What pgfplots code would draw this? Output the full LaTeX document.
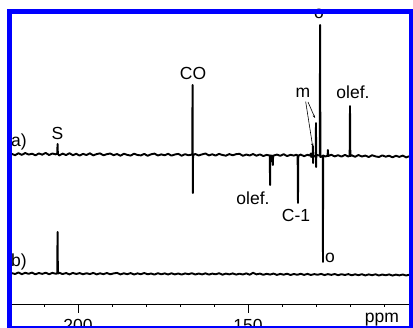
\documentclass[border=0pt]{standalone}
\usepackage{pgfplots}
\pgfplotsset{compat=1.18}
\usetikzlibrary{arrows.meta}
\usepackage{fontspec}
\setmainfont{Liberation Sans}
\newcommand{\lf}{\fontsize{17.5}{20}\selectfont}
\begin{document}
\begin{tikzpicture}[x=1pt,y=1pt]
\useasboundingbox (0,0) rectangle (413,328);
\clip (0,0) rectangle (413,328);
\begin{axis}[
  at={(12pt,24pt)}, anchor=south west,
  scale only axis, width=397pt, height=292pt,
  xmin=102.65, xmax=219.4, ymin=0, ymax=292,
  x dir=reverse,
  axis x line=bottom, axis y line=none,
  x axis line style={-, line width=0.8pt},
  xtick={200,150}, xticklabels={200,150},
  minor xtick={110,120,130,140,160,170,180,190,210},
  tick align=outside,
  major tick length=9pt, minor tick length=3pt,
  every tick/.style={black, line width=0.8pt},
  xticklabel style={font=\lf, inner sep=0pt, anchor=north, yshift=-6pt},
  ytick=\empty,
]
\addplot[black, line width=1.9pt, line join=round] coordinates {
(219.5,150.2) (218.5,148.8) (217.5,150.7) (216.5,149.1) (215.5,151.0) (214.5,149.4) (213.5,150.3) (212.5,148.6) (211.5,150.6) (210.5,149.3) (209.5,151.1) (208.5,149.0) (207.5,150.5) (206.5,149.6)
(206.1,150.5) (206.0,160) (205.9,150.0)
(205.5,148.5) (204.5,150.4) (203.5,148.9) (202.5,150.8) (201.5,148.8) (200.5,150.2) (199.5,148.4) (198.5,150.1) (197.5,149.0) (196.5,150.7) (195.5,148.6) (194.5,149.9) (193.5,150.6) (192.5,148.7) (191.5,149.8) (190.5,150.5) (189.5,148.8) (188.5,150.0) (187.5,148.3) (186.5,150.2) (185.5,149.1) (184.5,148.4) (183.5,150.3) (182.5,149.0) (181.5,148.6) (180.5,150.1) (179.5,148.2) (178.5,149.7) (177.5,150.4) (176.5,148.5) (175.5,149.6) (174.5,148.7) (173.5,150.2) (172.5,148.4) (171.5,149.5) (170.5,150.1) (169.5,148.3) (168.5,149.8) (167.5,148.7)
(166.4,149.5) (166.3,219) (166.22,111) (166.15,149)
(165.5,150.0) (164.5,148.5) (163.5,149.6) (162.5,150.5) (161.5,148.6) (160.5,149.7) (159.5,148.4) (158.5,150.1) (157.5,149.0) (156.5,148.3) (155.5,149.9) (154.5,148.7) (153.5,149.8) (152.5,150.2) (151.5,148.2) (150.5,149.5) (149.5,148.5) (148.5,150.0) (147.5,148.3) (146.5,149.6) (145.5,148.0) (144.5,149.1)
(143.6,148.5) (143.5,119) (143.42,148.6) (142.8,148.0) (142.7,139) (142.6,148.3)
(141.5,149.4) (140.5,148.2) (139.5,149.8) (138.5,147.9) (137.5,149.2) (136.5,148.4) (135.8,149.3)
(135.4,148.5) (135.3,101) (135.2,148.4)
(134.5,149.4) (133.5,147.8) (132.5,149.2) (131.8,148.4) (131.5,150.5) (131.4,147)
(131.0,148.5) (130.9,158) (130.85,141) (130.8,148)
(130.1,147.5) (130.0,181) (129.95,137) (129.9,149)
(128.9,148.5) (128.8,279) (128.7,147)
(128.0,148) (127.95,42) (127.9,148.5)
(127.2,147.5) (126.6,148.3) (126.5,154) (126.4,148)
(125.5,149.2) (124.5,147.6) (123.5,148.8) (122.5,147.4) (121.5,149.1) (120.5,147.5)
(120.1,148.3) (120.0,198) (119.9,147.9)
(119.5,148.7) (118.5,147.2) (117.5,149.0) (116.5,147.4) (115.5,148.5) (114.5,146.9) (113.5,148.8) (112.5,147.6) (111.5,147.0) (110.5,148.6) (109.5,147.3) (108.5,148.3) (107.5,146.7) (106.5,148.2) (105.5,147.1) (104.5,148.4) (103.5,146.6) (102.5,147.8)
};
\addplot[black, line width=1.9pt, line join=round] coordinates {
(219.5,30.9) (218.5,30.0) (217.5,31.5) (216.5,29.8) (215.5,31.2) (214.5,30.2) (213.5,31.4) (212.5,29.7) (211.5,31.0) (210.5,30.1) (209.5,31.3) (208.5,29.8) (207.5,31.1) (206.5,30.2)
(206.1,30.6) (206.0,72) (205.9,30.5)
(205.5,31.2) (204.5,29.9) (203.5,31.0) (202.5,29.6) (201.5,31.1) (200.5,30.0) (199.5,30.9) (198.5,29.7) (197.5,30.8) (196.5,29.9) (195.5,31.1) (194.5,29.6) (193.5,30.7) (192.5,29.8) (191.5,31.0) (190.5,29.7) (189.5,30.6) (188.5,31.1) (187.5,29.6) (186.5,30.7) (185.5,29.8) (184.5,30.9) (183.5,29.5) (182.5,30.6) (181.5,29.8) (180.5,31.0) (179.5,29.7) (178.5,30.5) (177.5,29.4) (176.5,30.8) (175.5,29.7) (174.5,30.6) (173.5,29.5) (172.5,30.7) (171.5,29.6) (170.5,30.5) (169.5,29.4) (168.5,30.6) (167.5,29.8) (166.5,30.8) (165.5,29.5) (164.5,30.5) (163.5,29.6) (162.5,30.7) (161.5,29.4) (160.5,30.4) (159.5,29.7) (158.5,30.8) (157.5,29.3) (156.5,30.4) (155.5,29.6) (154.5,30.6) (153.5,29.4) (152.5,30.3) (151.5,29.5) (150.5,30.6) (149.5,29.3) (148.5,31.2) (147.5,29.6) (146.5,30.4) (145.5,29.2) (144.5,30.2) (143.5,29.4) (142.5,30.4) (141.5,29.1) (140.5,30.1) (139.5,29.3) (138.5,30.3) (137.5,29.0) (136.5,30.0) (135.5,29.2) (134.5,30.2) (133.5,29.1) (132.5,30.1) (131.5,29.0) (130.5,29.9) (129.5,29.2) (128.5,30.1) (127.5,28.9) (126.5,29.9) (125.5,29.1) (124.5,30.0) (123.5,28.8) (122.5,29.8) (121.5,29.0) (120.5,29.9) (119.5,28.7) (118.5,29.7) (117.5,28.8) (116.5,29.8) (115.5,28.6) (114.5,29.6) (113.5,28.8) (112.5,29.7) (111.5,28.5) (110.5,29.5) (109.5,28.7) (108.5,29.6) (107.5,28.4) (106.5,29.4) (105.5,28.6) (104.5,29.5) (103.5,28.5) (102.5,29.3)
};
\draw[black, line width=0.6pt, -{Stealth[length=3pt,width=2.5pt]}] (axis cs:133.03,202.3) -- (axis cs:130.97,157.5);
\draw[black, line width=0.6pt, -{Stealth[length=3pt,width=2.5pt]}] (axis cs:132.35,202) -- (axis cs:130.29,186);
\end{axis}
% labels (pixel coordinates, y measured from bottom)
\node[font=\lf, anchor=base east, inner sep=0pt] at (27,181) {a)};
\node[font=\lf, anchor=base east, inner sep=0pt] at (27,61) {b)};
\node[font=\lf, anchor=base, inner sep=0pt] at (57.5,188) {S};
\node[font=\lf, anchor=base, inner sep=0pt] at (193,248) {CO};
\node[font=\lf, anchor=base, inner sep=0pt] at (303,230) {m};
\node[font=\lf, anchor=base, inner sep=0pt] at (353,229) {olef.};
\node[font=\lf, anchor=base, inner sep=0pt] at (253,123) {olef.};
\node[font=\lf, anchor=base, inner sep=0pt] at (296,106) {C-1};
\node[font=\lf, anchor=base, inner sep=0pt] at (330,65) {o};
\node[font=\lf, anchor=base, inner sep=0pt] at (319,309) {o};
\node[font=\lf, anchor=base, inner sep=0pt] at (382,5) {ppm};
\draw[blue, line width=5pt] (9.5,-1) rectangle (411.5,316.5);
\end{tikzpicture}
\end{document}
